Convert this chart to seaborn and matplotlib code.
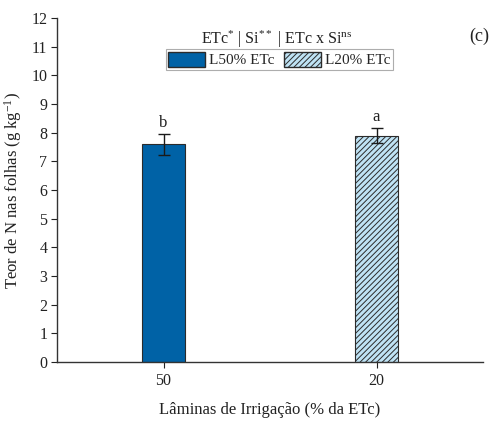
import matplotlib
matplotlib.use("Agg")
import matplotlib.pyplot as plt
import seaborn as sns
import pandas as pd
from matplotlib.patches import Patch

# Irrigation depth treatments and leaf N content
laminas = ["50", "20"]
teor_n = [7.6, 7.9]
erro = [0.37, 0.27]
letras = ["b", "a"]
series = ["L50% ETc", "L20% ETc"]

sns.set_theme(style="ticks")
plt.rcParams["font.family"] = ["Liberation Serif", "DejaVu Serif"]
plt.rcParams["mathtext.fontset"] = "custom"
plt.rcParams["mathtext.rm"] = "Liberation Serif"
plt.rcParams["mathtext.it"] = "Liberation Serif:italic"
plt.rcParams["hatch.color"] = "#3a5f78"
plt.rcParams["hatch.linewidth"] = 0.7

cor_escura = "#0062a6"
cor_clara = "#bfe3f5"
cor_borda = "#2b2b2b"
cor_texto = "#222222"

df = pd.DataFrame({"lamina": laminas, "teor": teor_n, "serie": series})

fig = plt.figure(figsize=(4.94, 4.22), dpi=100)
ax = fig.add_axes([57 / 494, 1 - 362 / 422, (483 - 57) / 494, (362 - 18) / 422])

sns.barplot(data=df, x="lamina", y="teor", hue="serie", order=laminas,
            hue_order=series, palette=[cor_escura, cor_clara], dodge=False,
            saturation=1, width=0.2, errorbar=None, legend=False, ax=ax,
            edgecolor=cor_borda, linewidth=0.8)

# hatch the L20% bar
for patch in ax.patches:
    x = patch.get_x() + patch.get_width() / 2
    if abs(x - 1) < 0.3 and patch.get_height() > 0:
        patch.set_hatch("//////")

ax.errorbar(range(len(laminas)), teor_n, yerr=erro, fmt="none",
            ecolor="#1a1a1a", elinewidth=1.0, capsize=4.5, capthick=1.0)

for i, (v, e, l) in enumerate(zip(teor_n, erro, letras)):
    ax.text(i, v + e + 0.1, l, ha="center", va="bottom", fontsize=12,
            color=cor_texto)

ax.set_xlim(-0.5, 1.5)
ax.set_ylim(0, 12)
ax.set_yticks(range(0, 13))
ax.set_xlabel("Lâminas de Irrigação (% da ETc)", fontsize=12, color=cor_texto,
              labelpad=9)
ax.set_ylabel("Teor de N nas folhas (g kg$^{-1}$)", fontsize=12,
              color=cor_texto, labelpad=5)
ax.tick_params(axis="both", labelsize=11.5, colors=cor_texto, length=4,
               width=0.8, direction="out")
ax.tick_params(axis="x", pad=4)
ax.tick_params(axis="y", pad=3)
sns.despine(ax=ax)
for s in ("left", "bottom"):
    ax.spines[s].set_color("#333333")
    ax.spines[s].set_linewidth(1.0)

fig.text(277 / 494, 1 - 39 / 422,
         r"ETc$^{*}$ | Si$^{**}$ | ETc x Si$^{\rm ns}$",
         ha="center", va="center", fontsize=11.5, color=cor_texto)

handles = [Patch(facecolor=cor_escura, edgecolor=cor_borda, label=series[0]),
           Patch(facecolor=cor_clara, edgecolor=cor_borda, hatch="//////",
                 label=series[1])]
leg = fig.legend(handles=handles, loc="center",
                 bbox_to_anchor=(279.5 / 494, 1 - 59.5 / 422),
                 ncol=2, fontsize=11, frameon=True, fancybox=False,
                 handlelength=2.4, handleheight=1.15, handletextpad=0.3,
                 columnspacing=0.6, borderpad=0.15, borderaxespad=0)
leg.get_frame().set_edgecolor("#999999")
leg.get_frame().set_linewidth(0.8)

fig.text(479 / 494, 1 - 36 / 422, "(c)", ha="center", va="center",
         fontsize=13, color=cor_texto)

fig.savefig("out.png", dpi=100, facecolor="white")
